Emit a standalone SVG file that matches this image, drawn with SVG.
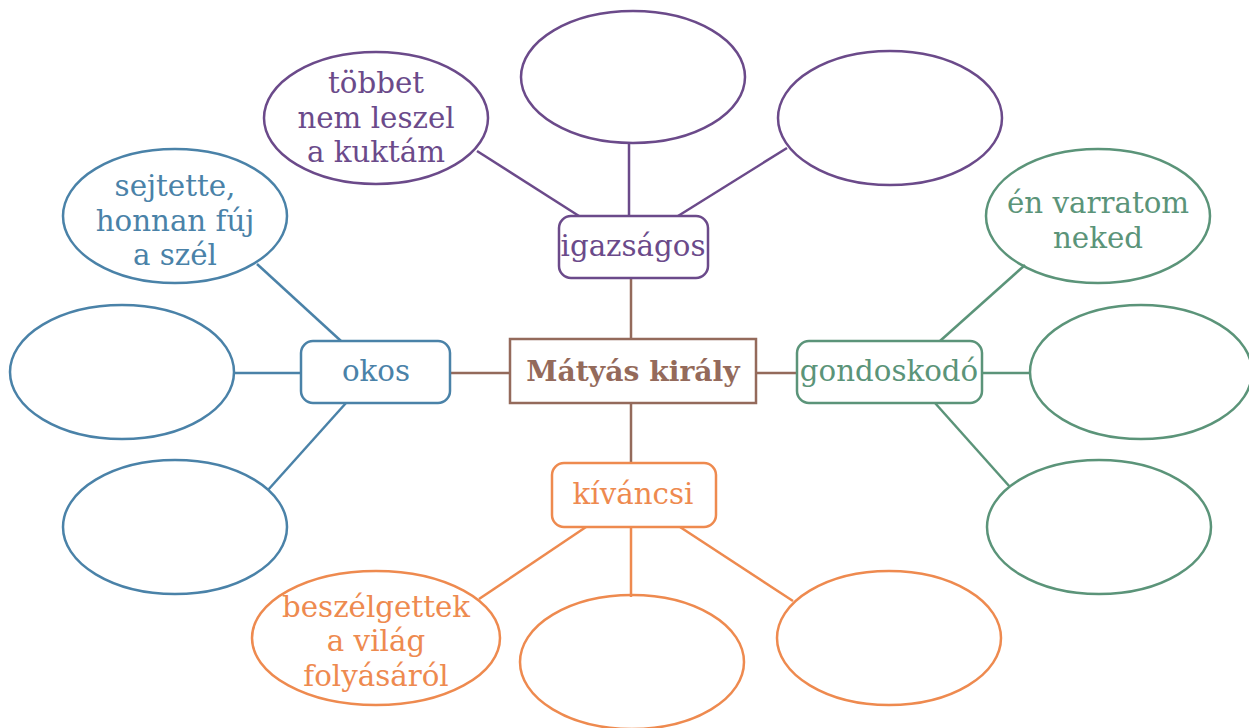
<svg xmlns="http://www.w3.org/2000/svg" width="1249" height="728" viewBox="0 0 1249 728">
<style>
text{font-family:"DejaVu Serif","Liberation Serif",serif;font-size:29.3px;text-anchor:middle;dominant-baseline:central}
.p{stroke:#6b4a8a;fill:none;stroke-width:2.5}
.b{stroke:#4a82a8;fill:none;stroke-width:2.5}
.g{stroke:#5b9479;fill:none;stroke-width:2.5}
.o{stroke:#ee8a4f;fill:none;stroke-width:2.5}
.m{stroke:#946a5b;fill:none;stroke-width:2.5}
.tp{fill:#6b4a8a}.tb{fill:#4a82a8}.tg{fill:#5b9479}.to{fill:#ee8a4f}
.tm{fill:#946a5b;font-weight:bold;font-size:28.2px}
</style>
<rect width="1249" height="728" fill="#fff"/>
<g id="connectors">
<line class="m" x1="631" y1="278" x2="631" y2="339"/>
<line class="m" x1="631" y1="403" x2="631" y2="463"/>
<line class="m" x1="450" y1="373" x2="510" y2="373"/>
<line class="m" x1="756" y1="373" x2="797" y2="373"/>
<line class="p" x1="579" y1="216" x2="477" y2="151"/>
<line class="p" x1="629" y1="216" x2="629" y2="144"/>
<line class="p" x1="678" y1="216" x2="787" y2="148"/>
<line class="b" x1="341" y1="341" x2="257" y2="264"/>
<line class="b" x1="301" y1="373" x2="234" y2="373"/>
<line class="b" x1="346" y1="403" x2="268" y2="490"/>
<line class="g" x1="940" y1="341" x2="1025" y2="265"/>
<line class="g" x1="982" y1="373" x2="1030" y2="373"/>
<line class="g" x1="935" y1="403" x2="1010" y2="487"/>
<line class="o" x1="586" y1="527" x2="479" y2="599"/>
<line class="o" x1="631" y1="527" x2="631" y2="597"/>
<line class="o" x1="680" y1="527" x2="793" y2="601"/>
</g>
<g id="center"><rect class="m" x="510" y="339" width="246" height="64"/><text class="tm" x="633" y="371">Mátyás király</text></g>
<g id="igazsagos"><rect class="p" x="559" y="216" width="149" height="62" rx="12"/><text class="tp" x="633" y="246">igazságos</text></g>
<g id="okos"><rect class="b" x="301" y="341" width="149" height="62" rx="12"/><text class="tb" x="376" y="371">okos</text></g>
<g id="gondoskodo"><rect class="g" x="797" y="341" width="185" height="62" rx="12"/><text class="tg" x="889" y="371">gondoskodó</text></g>
<g id="kivancsi"><rect class="o" x="552" y="463" width="164" height="64" rx="12"/><text class="to" x="633" y="494">kíváncsi</text></g>
<g id="p1"><ellipse class="p" cx="376" cy="118" rx="112" ry="66"/><text class="tp" x="376" y="83">többet</text><text class="tp" x="376" y="118">nem leszel</text><text class="tp" x="376" y="152">a kuktám</text></g>
<g id="p2"><ellipse class="p" cx="633" cy="77" rx="112" ry="66"/></g>
<g id="p3"><ellipse class="p" cx="890" cy="118" rx="112" ry="67"/></g>
<g id="b1"><ellipse class="b" cx="175" cy="216" rx="112" ry="67"/><text class="tb" x="175" y="186">sejtette,</text><text class="tb" x="175" y="221">honnan fúj</text><text class="tb" x="175" y="255">a szél</text></g>
<g id="b2"><ellipse class="b" cx="122" cy="372" rx="112" ry="67"/></g>
<g id="b3"><ellipse class="b" cx="175" cy="527" rx="112" ry="67"/></g>
<g id="g1"><ellipse class="g" cx="1098" cy="216" rx="112" ry="67"/><text class="tg" x="1098" y="203">én varratom</text><text class="tg" x="1098" y="238">neked</text></g>
<g id="g2"><ellipse class="g" cx="1141" cy="372" rx="111" ry="67"/></g>
<g id="g3"><ellipse class="g" cx="1099" cy="527" rx="112" ry="67"/></g>
<g id="o1"><ellipse class="o" cx="376" cy="638" rx="124" ry="67"/><text class="to" x="376" y="607">beszélgettek</text><text class="to" x="376" y="641">a világ</text><text class="to" x="376" y="676">folyásáról</text></g>
<g id="o2"><ellipse class="o" cx="632" cy="662" rx="112" ry="67"/></g>
<g id="o3"><ellipse class="o" cx="889" cy="638" rx="112" ry="67"/></g>
</svg>
